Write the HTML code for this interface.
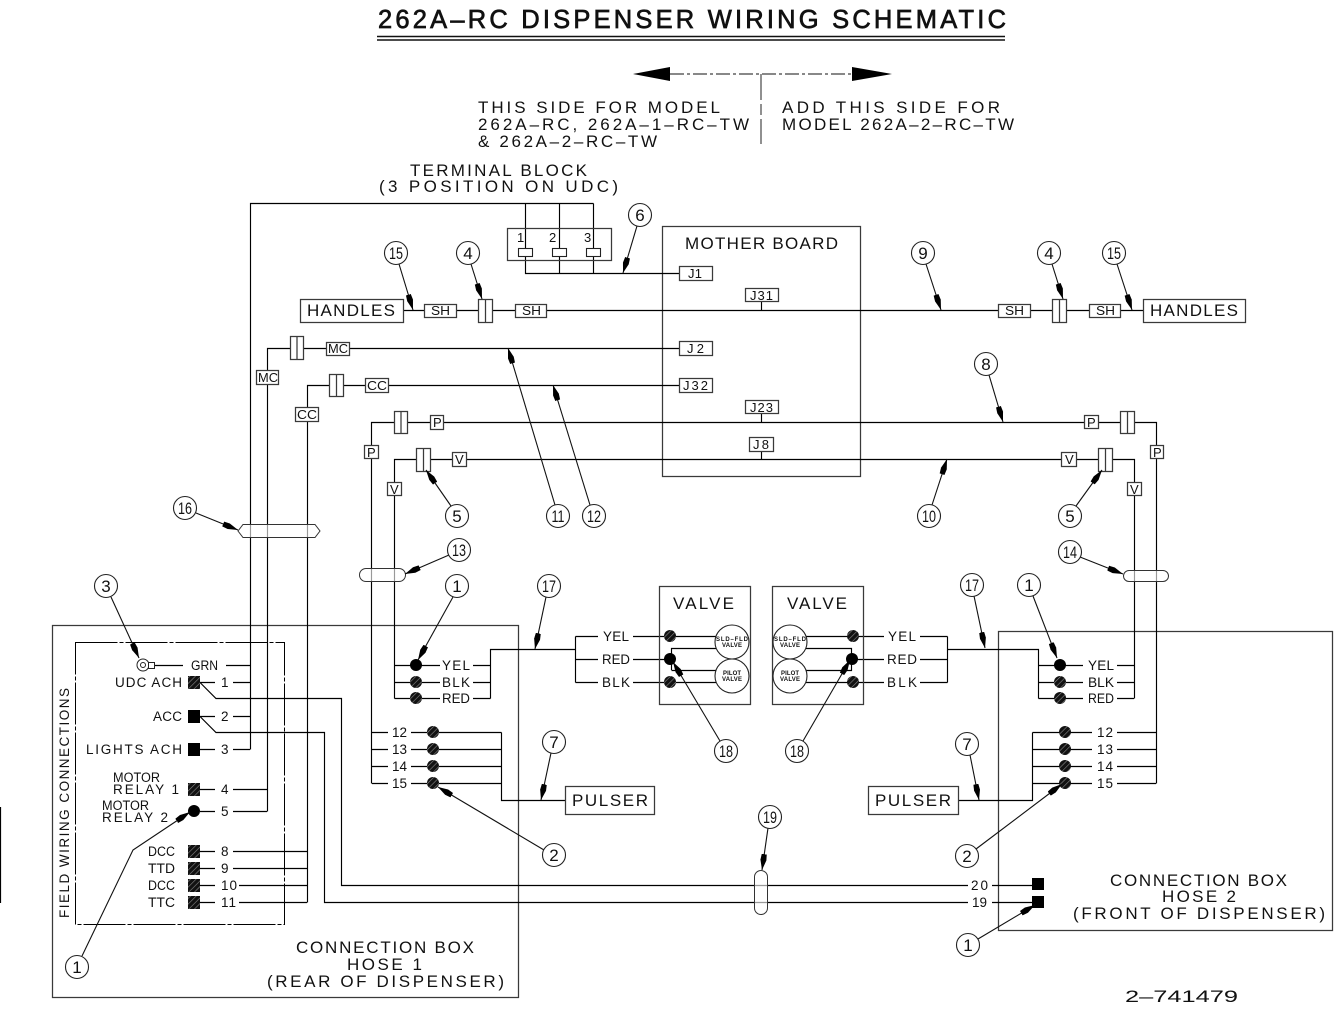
<!DOCTYPE html>
<html><head><meta charset="utf-8"><title>262A-RC Dispenser Wiring Schematic</title>
<style>
html,body{margin:0;padding:0;background:#fff}
svg{display:block}
text{font-family:"Liberation Sans",sans-serif;fill:#111}
.w{fill:none;stroke:#000;stroke-width:1.15}
.g{fill:none;stroke:#3a3a3a;stroke-width:1.25}
.b{fill:#fff;stroke:#3a3a3a;stroke-width:1.25}
.c{fill:#fff;stroke:#222;stroke-width:1.1}
.l{fill:none;stroke:#111;stroke-width:1.1;marker-end:url(#a)}
.t16{font-size:17px}.t13{font-size:13.5px}.t12{font-size:13px}
.n{font-size:17px;text-anchor:middle}
.h{fill:url(#h)}
</style></head><body>
<svg width="1339" height="1010" viewBox="0 0 1339 1010" xmlns="http://www.w3.org/2000/svg">
<defs>
<marker id="a" markerUnits="userSpaceOnUse" viewBox="0 0 16 7" refX="16" refY="3.5" markerWidth="16" markerHeight="7" orient="auto"><path d="M0 1 L6 .5 L16 3.5 L6 6.5 L0 6Z" fill="#000"/></marker>
<pattern id="h" width="4" height="4" patternUnits="userSpaceOnUse" patternTransform="rotate(-45)"><rect width="4" height="4" fill="#111"/><rect width="4" height=".6" fill="#888"/></pattern>
</defs>
<rect width="1339" height="1010" fill="#fff"/>
<path d="M.5 807V903" stroke="#000" stroke-width="1.2"/>

<!-- title -->
<text x="378" y="28" style="font-size:25.5px;stroke:#111;stroke-width:.7" textLength="628">262A–RC DISPENSER WIRING SCHEMATIC</text>
<path d="M377 36.5H1005M377 40H1005" stroke="#111" stroke-width="1.5"/>
<path d="M670 74H852" stroke="#111" fill="none" stroke-dasharray="14 3 3 3"/>
<path d="M633 74L670 67V81Z M892 74L852 67V81Z" fill="#000"/>
<path d="M761 74V100M761 104V115M761 119V144" stroke="#222" fill="none"/>
<text class="t16" x="478" y="113" textLength="242">THIS SIDE FOR MODEL</text>
<text class="t16" x="478" y="130" textLength="271">262A–RC, 262A–1–RC–TW</text>
<text class="t16" x="478" y="147" textLength="179">&amp; 262A–2–RC–TW</text>
<text class="t16" x="782" y="113" textLength="218">ADD THIS SIDE FOR</text>
<text class="t16" x="782" y="130" textLength="232">MODEL 262A–2–RC–TW</text>
<text class="t16" x="410" y="176" textLength="177">TERMINAL BLOCK</text>
<text class="t16" x="379" y="192" textLength="239">(3 POSITION ON UDC)</text>

<!-- boxes behind -->
<rect class="g" x="52.5" y="625.5" width="466" height="372"/>
<rect class="g" x="998.5" y="631.5" width="334" height="299"/>
<rect class="g" x="662.5" y="226.5" width="198" height="250"/>
<path d="M75.5 642.5H284.5V924.5H75.5Z" fill="none" stroke="#000" stroke-dasharray="42 2 4 2"/>

<!-- wires -->
<path class="w" d="M250.5 749.5V203.5H593.5M525.5 203.5V248M559.5 203.5V248M593.5 203.5V248
M525.5 256V273.5H679M559.5 256V273.5M593.5 256V273.5
M403 310.5H1143M761.5 301V310.5
M267.5 811.5V348.5H679
M307.5 902.5V385.5H679
M371.5 783.5V422.5H1156.5V783.5
M394.5 698.5V459.5H1134.5V698.5
M761.5 413V422M761.5 451V459
M155 665.5H183M226 665.5H250
M200 682.5H215M233 682.5H250M200 716.5H215M233 716.5H250M200 749.5H215M233 749.5H250
M200 789.5H215M233 789.5H267M200 811.5H215M233 811.5H267
M200 851.5H215M233 851.5H307M200 868.5H215M233 868.5H307M200 885.5H215M239 885.5H307M200 902.5H215M239 902.5H307
M200 682.5L216 698.5H341.5V885.5H968M992 885.5H1032
M200 716.5L216 732.5H324.5V902.5H968M992 902.5H1032
M394.5 665.5H440M473 665.5H490.5M394.5 682.5H440M473 682.5H490.5M394.5 698.5H440M473 698.5H490.5
M490.5 698.5V649.5H575.5M575.5 636.5V682.5M575.5 636.5H598M575.5 659.5H598M575.5 682.5H598
M633 636.5H716M633 659.5H670M633 682.5H716
M671.5 670V648.5H716M671.5 670.5H716
M372 732.5H388M411 732.5H501.5M372 749.5H388M411 749.5H501.5M372 766.5H388M411 766.5H501.5M372 783.5H388M411 783.5H501.5
M501.5 732.5V800.5H565
M806 636.5H884M852 659.5H884M806 682.5H884M806 648.5H851.5V670.5H806
M920 636.5H947.5M920 659.5H947.5M920 682.5H947.5M947.5 636.5V682.5M947.5 649.5H1038.5V698.5
M1038.5 665.5H1083M1038.5 682.5H1083M1038.5 698.5H1083M1117 665.5H1134M1117 682.5H1134M1117 698.5H1134
M1032.5 732.5V800.5H959M1032.5 732.5H1092M1032.5 749.5H1092M1032.5 766.5H1092M1032.5 783.5H1092
M1117 732.5H1156M1117 749.5H1156M1117 766.5H1156M1117 783.5H1156"/>

<!-- hose clamps -->
<path d="M238 531L243 524.5H315L320 531L315 537.5H243Z" fill="#fff" fill-opacity=".6" stroke="#333"/>
<rect x="359.5" y="568.5" width="46" height="13" rx="6.5" fill="#fff" fill-opacity=".6" stroke="#333"/>
<rect x="1123.5" y="570.5" width="45" height="11" rx="5.5" fill="#fff" fill-opacity=".6" stroke="#333"/>
<rect x="754.5" y="870.5" width="13" height="44" rx="6.5" fill="#fff" fill-opacity=".6" stroke="#333"/>

<!-- terminal block -->
<rect class="g" x="507.5" y="228.5" width="104" height="32"/>
<rect class="c" x="518.5" y="248.5" width="14" height="8"/><rect class="c" x="552.5" y="248.5" width="14" height="8"/><rect class="c" x="586.5" y="248.5" width="14" height="8"/>
<text class="t12" x="517" y="242">1</text><text class="t12" x="549" y="242">2</text><text class="t12" x="584" y="242">3</text>

<!-- connector blocks -->
<g class="b">
<rect class="b" x="300.5" y="299.5" width="103" height="23"/>
<rect class="b" x="1143.5" y="299.5" width="102" height="23"/>
<rect class="b" x="478.5" y="299.5" width="14" height="23"/><path class="g" d="M485.5 299V322"/>
<rect class="b" x="1052.5" y="299.5" width="14" height="23"/><path class="g" d="M1059.5 299V322"/>
<rect class="b" x="290.5" y="336.5" width="13" height="23"/><path class="g" d="M297 336V359"/>
<rect class="b" x="329.5" y="374.5" width="14" height="22"/><path class="g" d="M336.5 374V396"/>
<rect class="b" x="394.5" y="411.5" width="13" height="22"/><path class="g" d="M401 411V433"/>
<rect class="b" x="416.5" y="448.5" width="14" height="23"/><path class="g" d="M423.5 448V471"/>
<rect class="b" x="1120.5" y="411.5" width="14" height="22"/><path class="g" d="M1127.5 411V433"/>
<rect class="b" x="1098.5" y="448.5" width="14" height="23"/><path class="g" d="M1105.5 448V471"/>
<rect class="b" x="424.5" y="304.5" width="32" height="13"/>
<rect class="b" x="515.5" y="304.5" width="31" height="13"/>
<rect class="b" x="998.5" y="304.5" width="32" height="13"/>
<rect class="b" x="1089.5" y="304.5" width="31" height="13"/>
<rect class="b" x="326.5" y="342.5" width="23" height="13"/>
<rect class="b" x="365.5" y="378.5" width="23" height="14"/>
<rect class="b" x="430.5" y="415.5" width="13" height="14"/>
<rect class="b" x="452.5" y="452.5" width="14" height="14"/>
<rect class="b" x="1084.5" y="415.5" width="14" height="13"/>
<rect class="b" x="1061.5" y="452.5" width="15" height="14"/>
<rect class="b" x="256.5" y="370.5" width="22" height="14"/>
<rect class="b" x="295.5" y="407.5" width="23" height="14"/>
<rect class="b" x="364.5" y="445.5" width="14" height="13"/>
<rect class="b" x="387.5" y="482.5" width="14" height="13"/>
<rect class="b" x="1150.5" y="445.5" width="13" height="13"/>
<rect class="b" x="1127.5" y="482.5" width="14" height="13"/>
<rect class="b" x="679.5" y="266.5" width="33" height="14"/>
<rect class="b" x="745.5" y="288.5" width="33" height="13"/>
<rect class="b" x="679.5" y="341.5" width="33" height="14"/>
<rect class="b" x="679.5" y="378.5" width="33" height="14"/>
<rect class="b" x="745.5" y="400.5" width="33" height="13"/>
<rect class="b" x="749.5" y="437.5" width="24" height="14"/>
</g>
<text class="t16" x="307" y="316" textLength="88">HANDLES</text>
<text class="t16" x="1150" y="316" textLength="88">HANDLES</text>
<text class="t12" x="431" y="315" textLength="19" lengthAdjust="spacingAndGlyphs">SH</text><text class="t12" x="522" y="315" textLength="19" lengthAdjust="spacingAndGlyphs">SH</text>
<text class="t12" x="1005" y="315" textLength="19" lengthAdjust="spacingAndGlyphs">SH</text><text class="t12" x="1096" y="315" textLength="19" lengthAdjust="spacingAndGlyphs">SH</text>
<text class="t12" x="328" y="353" textLength="20" lengthAdjust="spacingAndGlyphs">MC</text><text class="t12" x="367" y="390" textLength="20" lengthAdjust="spacingAndGlyphs">CC</text>
<text class="t12" x="258" y="382" textLength="20" lengthAdjust="spacingAndGlyphs">MC</text><text class="t12" x="297" y="419" textLength="20" lengthAdjust="spacingAndGlyphs">CC</text>
<text class="t12" x="433" y="427">P</text><text class="t12" x="455" y="464">V</text>
<text class="t12" x="1087" y="427">P</text><text class="t12" x="1065" y="464">V</text>
<text class="t12" x="367" y="457">P</text><text class="t12" x="390" y="494">V</text>
<text class="t12" x="1153" y="457">P</text><text class="t12" x="1130" y="494">V</text>
<text class="t12" x="688" y="278" textLength="14">J1</text>
<text class="t12" x="750" y="300" textLength="23">J31</text>
<text class="t12" x="687" y="353" textLength="17">J2</text>
<text class="t12" x="683" y="390" textLength="25">J32</text>
<text class="t12" x="750" y="412" textLength="23">J23</text>
<text class="t12" x="753" y="449" textLength="16">J8</text>
<text class="t16" x="685" y="249" textLength="153">MOTHER BOARD</text>

<!-- left box contents -->
<circle cx="143" cy="665" r="6" fill="#fff" stroke="#222"/><circle cx="143" cy="665" r="2.5" fill="#fff" stroke="#222"/>
<rect x="148.5" y="662.5" width="6" height="6" fill="#fff" stroke="#222"/>
<g>
<rect class="h" x="188" y="676" width="12" height="13"/>
<rect x="188" y="710" width="12" height="13"/>
<rect x="188" y="743" width="12" height="13"/>
<rect class="h" x="188" y="783" width="12" height="13"/>
<circle cx="194" cy="811" r="6"/>
<rect class="h" x="188" y="845" width="12" height="13"/>
<rect class="h" x="188" y="862" width="12" height="13"/>
<rect class="h" x="188" y="879" width="12" height="13"/>
<rect class="h" x="188" y="896" width="12" height="13"/>
</g>
<text class="t13" x="191" y="670" textLength="27" lengthAdjust="spacingAndGlyphs">GRN</text>
<text class="t13" x="115" y="687" textLength="67">UDC ACH</text>
<text class="t13" x="153" y="721" textLength="29">ACC</text>
<text class="t13" x="86" y="754" textLength="96">LIGHTS ACH</text>
<text class="t13" x="113" y="782" textLength="47" lengthAdjust="spacingAndGlyphs">MOTOR</text>
<text class="t13" x="113" y="794" textLength="66">RELAY 1</text>
<text class="t13" x="102" y="810" textLength="47" lengthAdjust="spacingAndGlyphs">MOTOR</text>
<text class="t13" x="102" y="822" textLength="66">RELAY 2</text>
<text class="t13" x="148" y="856" textLength="27" lengthAdjust="spacingAndGlyphs">DCC</text>
<text class="t13" x="148" y="873" textLength="27" lengthAdjust="spacingAndGlyphs">TTD</text>
<text class="t13" x="148" y="890" textLength="27" lengthAdjust="spacingAndGlyphs">DCC</text>
<text class="t13" x="148" y="907" textLength="27" lengthAdjust="spacingAndGlyphs">TTC</text>
<text class="t13" x="221" y="687">1</text><text class="t13" x="221" y="721">2</text><text class="t13" x="221" y="754">3</text>
<text class="t13" x="221" y="794">4</text><text class="t13" x="221" y="816">5</text>
<text class="t13" x="221" y="856">8</text><text class="t13" x="221" y="873">9</text>
<text class="t13" x="221" y="890" textLength="16">10</text><text class="t13" x="221" y="907" textLength="15">11</text>
<text class="t13" transform="translate(69 918) rotate(-90)" textLength="230">FIELD WIRING CONNECTIONS</text>
<text class="t16" x="296" y="953" textLength="178">CONNECTION BOX</text>
<text class="t16" x="347" y="970" textLength="75">HOSE 1</text>
<text class="t16" x="267" y="987" textLength="237">(REAR OF DISPENSER)</text>

<circle cx="416" cy="665" r="6"/><circle class="h" cx="416" cy="682" r="6"/><circle class="h" cx="416" cy="698" r="6"/>
<text class="t13" x="442" y="670" textLength="28">YEL</text><text class="t13" x="442" y="687" textLength="28">BLK</text><text class="t13" x="442" y="703" textLength="28" lengthAdjust="spacingAndGlyphs">RED</text>
<g class="h"><circle cx="433" cy="732" r="6"/><circle cx="433" cy="749" r="6"/><circle cx="433" cy="766" r="6"/><circle cx="433" cy="783" r="6"/></g>
<text class="t13" x="392" y="737" textLength="15">12</text><text class="t13" x="392" y="754" textLength="15">13</text><text class="t13" x="392" y="771" textLength="15">14</text><text class="t13" x="392" y="788" textLength="15">15</text>
<rect class="b" x="565.5" y="786.5" width="89" height="28"/>
<text class="t16" x="572" y="806" textLength="76">PULSER</text>

<!-- valves -->
<rect class="g" x="659.5" y="586.5" width="91" height="118"/>
<rect class="g" x="772.5" y="586.5" width="91" height="118"/>
<text class="t16" x="673" y="609" textLength="61">VALVE</text>
<text class="t16" x="787" y="609" textLength="60">VALVE</text>
<circle class="c" cx="732" cy="642" r="17"/><circle class="c" cx="732" cy="676" r="17"/>
<circle class="c" cx="790" cy="642" r="17"/><circle class="c" cx="790" cy="676" r="17"/>
<g style="font-weight:bold">
<text x="716" y="641" style="font-size:6px" textLength="32">SLD–FLD</text><text x="722" y="647" style="font-size:6px" textLength="20">VALVE</text>
<text x="723" y="675" style="font-size:6px" textLength="18">PILOT</text><text x="722" y="681" style="font-size:6px" textLength="20">VALVE</text>
<text x="774" y="641" style="font-size:6px" textLength="32">SLD–FLD</text><text x="780" y="647" style="font-size:6px" textLength="20">VALVE</text>
<text x="781" y="675" style="font-size:6px" textLength="18">PILOT</text><text x="780" y="681" style="font-size:6px" textLength="20">VALVE</text>
</g>
<circle class="h" cx="670" cy="636" r="6"/><circle cx="670" cy="659" r="6"/><circle class="h" cx="670" cy="682" r="6"/>
<circle class="h" cx="853" cy="636" r="6"/><circle cx="852" cy="659" r="6"/><circle class="h" cx="853" cy="682" r="6"/>
<text class="t13" x="603" y="641" textLength="26">YEL</text><text class="t13" x="602" y="664" textLength="28" lengthAdjust="spacingAndGlyphs">RED</text><text class="t13" x="602" y="687" textLength="28">BLK</text>
<text class="t13" x="888" y="641" textLength="28">YEL</text><text class="t13" x="887" y="664" textLength="30">RED</text><text class="t13" x="887" y="687" textLength="30">BLK</text>

<!-- right box -->
<circle cx="1060" cy="665" r="6"/><circle class="h" cx="1060" cy="682" r="6"/><circle class="h" cx="1060" cy="698" r="6"/>
<text class="t13" x="1088" y="670" textLength="26">YEL</text><text class="t13" x="1088" y="687" textLength="26" lengthAdjust="spacingAndGlyphs">BLK</text><text class="t13" x="1088" y="703" textLength="26" lengthAdjust="spacingAndGlyphs">RED</text>
<g class="h"><circle cx="1065" cy="732" r="6"/><circle cx="1065" cy="749" r="6"/><circle cx="1065" cy="766" r="6"/><circle cx="1065" cy="783" r="6"/></g>
<text class="t13" x="1097" y="737" textLength="16">12</text><text class="t13" x="1097" y="754" textLength="16">13</text><text class="t13" x="1097" y="771" textLength="16">14</text><text class="t13" x="1097" y="788" textLength="16">15</text>
<rect class="b" x="868.5" y="786.5" width="90" height="28"/>
<text class="t16" x="875" y="806" textLength="76">PULSER</text>
<rect x="1032" y="878" width="12" height="12"/><rect x="1032" y="896" width="12" height="12"/>
<text class="t13" x="971" y="890" textLength="17">20</text><text class="t13" x="972" y="907" textLength="15">19</text>
<text class="t16" x="1110" y="886" textLength="177">CONNECTION BOX</text>
<text class="t16" x="1162" y="902" textLength="74">HOSE 2</text>
<text class="t16" x="1073" y="919" textLength="252">(FRONT OF DISPENSER)</text>
<text class="t16" x="1125" y="1002" textLength="113" lengthAdjust="spacingAndGlyphs">2–741479</text>

<!-- leaders -->
<g>
<path class="l" d="M399 264L413 310"/>
<path class="l" d="M471 264L482 299"/>
<path class="l" d="M637 226L623 273"/>
<path class="l" d="M555 505L508 348"/>
<path class="l" d="M590 505L553 385"/>
<path class="l" d="M451 506L426 470"/>
<path class="l" d="M926 264L941 310"/>
<path class="l" d="M1052 264L1063 299"/>
<path class="l" d="M1117 264L1132 310"/>
<path class="l" d="M989 375L1003 422"/>
<path class="l" d="M1076 506L1102 470"/>
<path class="l" d="M932 505L947 459"/>
<path class="l" d="M196 513L238 530"/>
<path class="l" d="M449 555L405 574"/>
<path class="l" d="M1080 557L1123 574"/>
<path class="l" d="M453 597L418 660"/>
<path class="l" d="M546 597L535 649"/>
<path class="l" d="M111 597L139 658"/>
<path class="l" d="M82 956L133 850L190 812"/>
<path class="l" d="M551 753L541 800"/>
<path class="l" d="M544 850L438 787"/>
<path class="l" d="M720 741L673 662"/>
<path class="l" d="M803 741L850 660"/>
<path class="l" d="M974 596L985 648"/>
<path class="l" d="M1033 596L1057 658"/>
<path class="l" d="M970 755L979 800"/>
<path class="l" d="M976 849L1062 784"/>
<path class="l" d="M978 939L1035 905"/>
<path class="l" d="M768 828L762 870"/>
</g>
<g>
<circle class="c" cx="396" cy="253" r="11.5"/><text class="n" x="396" y="259" textLength="14" lengthAdjust="spacingAndGlyphs">15</text>
<circle class="c" cx="468" cy="253" r="11.5"/><text class="n" x="468" y="259">4</text>
<circle class="c" cx="640" cy="215" r="11.5"/><text class="n" x="640" y="221">6</text>
<circle class="c" cx="558" cy="516" r="11.5"/><text class="n" x="558" y="522" textLength="13" lengthAdjust="spacingAndGlyphs">11</text>
<circle class="c" cx="594" cy="516" r="11.5"/><text class="n" x="594" y="522" textLength="14" lengthAdjust="spacingAndGlyphs">12</text>
<circle class="c" cx="457" cy="516" r="11.5"/><text class="n" x="457" y="522">5</text>
<circle class="c" cx="923" cy="253" r="11.5"/><text class="n" x="923" y="259">9</text>
<circle class="c" cx="1049" cy="253" r="11.5"/><text class="n" x="1049" y="259">4</text>
<circle class="c" cx="1114" cy="253" r="11.5"/><text class="n" x="1114" y="259" textLength="14" lengthAdjust="spacingAndGlyphs">15</text>
<circle class="c" cx="986" cy="364" r="11.5"/><text class="n" x="986" y="370">8</text>
<circle class="c" cx="1070" cy="516" r="11.5"/><text class="n" x="1070" y="522">5</text>
<circle class="c" cx="929" cy="516" r="11.5"/><text class="n" x="929" y="522" textLength="14" lengthAdjust="spacingAndGlyphs">10</text>
<circle class="c" cx="185" cy="508" r="11.5"/><text class="n" x="185" y="514" textLength="14" lengthAdjust="spacingAndGlyphs">16</text>
<circle class="c" cx="459" cy="550" r="11.5"/><text class="n" x="459" y="556" textLength="14" lengthAdjust="spacingAndGlyphs">13</text>
<circle class="c" cx="1070" cy="552" r="11.5"/><text class="n" x="1070" y="558" textLength="14" lengthAdjust="spacingAndGlyphs">14</text>
<circle class="c" cx="457" cy="586" r="11.5"/><text class="n" x="457" y="592">1</text>
<circle class="c" cx="549" cy="586" r="11.5"/><text class="n" x="549" y="592" textLength="14" lengthAdjust="spacingAndGlyphs">17</text>
<circle class="c" cx="106" cy="586" r="11.5"/><text class="n" x="106" y="592">3</text>
<circle class="c" cx="77" cy="967" r="11.5"/><text class="n" x="77" y="973">1</text>
<circle class="c" cx="554" cy="742" r="11.5"/><text class="n" x="554" y="748">7</text>
<circle class="c" cx="554" cy="855" r="11.5"/><text class="n" x="554" y="861">2</text>
<circle class="c" cx="726" cy="751" r="11.5"/><text class="n" x="726" y="757" textLength="14" lengthAdjust="spacingAndGlyphs">18</text>
<circle class="c" cx="797" cy="751" r="11.5"/><text class="n" x="797" y="757" textLength="14" lengthAdjust="spacingAndGlyphs">18</text>
<circle class="c" cx="972" cy="585" r="11.5"/><text class="n" x="972" y="591" textLength="14" lengthAdjust="spacingAndGlyphs">17</text>
<circle class="c" cx="1029" cy="585" r="11.5"/><text class="n" x="1029" y="591">1</text>
<circle class="c" cx="967" cy="744" r="11.5"/><text class="n" x="967" y="750">7</text>
<circle class="c" cx="967" cy="856" r="11.5"/><text class="n" x="967" y="862">2</text>
<circle class="c" cx="968" cy="945" r="11.5"/><text class="n" x="968" y="951">1</text>
<circle class="c" cx="770" cy="817" r="11.5"/><text class="n" x="770" y="823" textLength="14" lengthAdjust="spacingAndGlyphs">19</text>
</g>
</svg>
</body></html>
